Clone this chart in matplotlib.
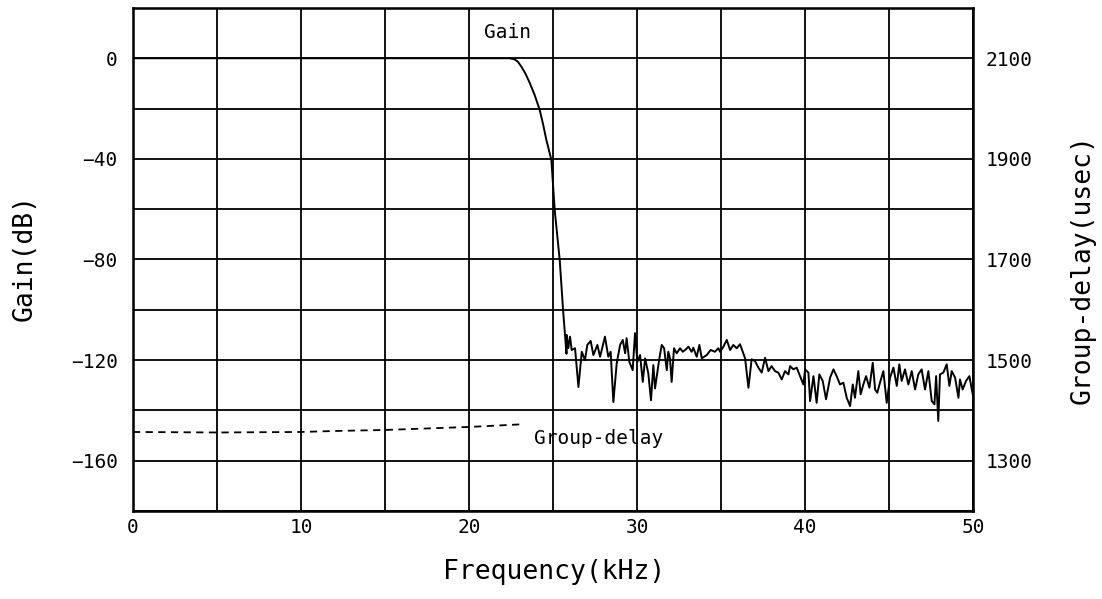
#filter response plot: gain and group-delay against frequency
import matplotlib
matplotlib.use('Agg')
import matplotlib.pyplot as plt

#passband and transition of the gain curve
pass_freq = [0.0, 22.4, 22.7, 22.9, 23.1, 23.35, 23.6, 23.9, 24.2, 24.4, 24.6, 24.9,
             25.1, 25.4, 25.6, 25.8]
pass_gain = [0.0, 0.0, -0.4, -1.3, -3.2, -6.0, -9.6, -14.5, -20.4, -26.0, -32.4, -40.4,
             -60.4, -80.4, -100.4, -117.5]

#stopband noise
stop_freq = [25.81, 25.91, 26.01, 26.11, 26.31, 26.51, 26.71, 26.90, 27.04, 27.24,
             27.40, 27.64, 27.80, 28.09, 28.29, 28.43, 28.59, 28.79, 28.99, 29.15,
             29.29, 29.38, 29.54, 29.74, 29.88, 30.02, 30.18, 30.34, 30.48, 30.67,
             30.83, 30.97, 31.07, 31.21, 31.33, 31.47, 31.61, 31.77, 31.86, 31.96,
             32.06, 32.20, 32.36, 32.56, 32.72, 32.86, 33.06, 33.25, 33.35, 33.55,
             33.71, 33.85, 33.99, 34.15, 34.38, 34.64, 34.84, 34.94, 35.14, 35.34,
             35.54, 35.73, 35.93, 36.13, 36.43, 36.63, 36.82, 37.02, 37.22, 37.42,
             37.62, 37.82, 38.01, 38.21, 38.41, 38.61, 38.81, 39.01, 39.11, 39.30,
             39.50, 39.70, 39.90, 40.00, 40.20, 40.30, 40.50, 40.69, 40.85, 41.05,
             41.25, 41.49, 41.69, 41.88, 42.08, 42.28, 42.48, 42.68, 42.84, 42.97,
             43.17, 43.31, 43.47, 43.63, 43.83, 44.03, 44.17, 44.30, 44.46, 44.66,
             44.86, 45.06, 45.26, 45.46, 45.61, 45.75, 45.95, 46.15, 46.35, 46.55,
             46.74, 46.94, 47.14, 47.34, 47.54, 47.70, 47.80, 47.93, 48.03, 48.23,
             48.43, 48.59, 48.73, 48.93, 49.13, 49.22, 49.38, 49.58, 49.78, 49.98]
stop_gain = [-110.0, -115.3, -110.7, -116.0, -115.3, -130.7, -116.7, -120.0, -114.0, -112.4,
             -118.0, -114.0, -118.7, -110.7, -118.7, -116.7, -136.7, -121.3, -114.0, -112.0,
             -117.3, -111.3, -120.7, -124.0, -109.3, -120.7, -118.0, -128.7, -119.3, -125.3,
             -136.0, -122.0, -131.3, -124.7, -119.3, -114.0, -115.3, -124.0, -116.7, -119.3,
             -128.7, -115.3, -117.3, -115.3, -116.7, -116.0, -114.7, -116.7, -115.1, -118.7,
             -114.0, -119.3, -118.7, -118.0, -116.0, -116.7, -115.3, -116.7, -114.7, -112.0,
             -116.0, -114.0, -115.3, -113.7, -119.3, -131.0, -119.7, -120.4, -123.0, -125.0,
             -119.1, -124.4, -122.4, -124.4, -125.0, -127.7, -124.4, -125.7, -122.4, -123.7,
             -123.0, -126.4, -129.7, -123.7, -125.0, -136.3, -126.4, -137.0, -125.7, -128.3,
             -135.6, -127.0, -123.7, -126.4, -129.7, -129.0, -135.0, -138.3, -129.7, -135.0,
             -124.4, -133.6, -129.7, -126.4, -131.0, -121.1, -131.7, -133.0, -129.0, -124.4,
             -137.0, -127.0, -123.0, -130.3, -121.7, -128.3, -123.7, -129.7, -124.4, -131.7,
             -125.7, -123.7, -131.7, -124.4, -136.3, -137.6, -126.4, -144.2, -125.7, -125.0,
             -121.7, -130.3, -124.4, -127.0, -135.0, -127.7, -131.7, -128.3, -126.4, -133.6]

#group delay in the passband
gd_freq = [0, 5, 10, 12, 15, 20, 23]
gd_usec = [1357, 1356, 1357, 1359, 1361, 1367, 1372]

gain_ticks = [0, -40, -80, -120, -160]
gd_ticks = [2100, 1900, 1700, 1500, 1300]
freq_ticks = [0, 10, 20, 30, 40, 50]

font = 'DejaVu Sans Mono'
plt.rcParams['font.family'] = font

fig = plt.figure(figsize=(11.02, 5.99), dpi=100)
ax = fig.add_axes([0.1207, 0.147, 0.7623, 0.8397])

ax.plot(pass_freq + stop_freq, pass_gain + stop_gain, color='black', lw=1.4)

ax.set_xlim(0, 50)
ax.set_ylim(-180, 20)
ax.set_xticks(freq_ticks)
ax.set_xticks(range(0, 51, 5), minor=True)
ax.set_yticks(gain_ticks)
ax.set_yticks(range(-180, 21, 20), minor=True)
ax.grid(which='both', color='black', lw=1.3)
ax.tick_params(which='both', length=0)
ax.tick_params(axis='y', labelsize=14, pad=11)
ax.tick_params(axis='x', labelsize=14, pad=5)
for s in ax.spines.values():
    s.set_linewidth(1.8)

#right axis for group delay, 5 usec per dB
ax2 = ax.twinx()
ax2.set_ylim(1200, 2200)
ax2.set_yticks(gd_ticks)
ax2.tick_params(length=0, labelsize=14, pad=9)
ax2.plot(gd_freq, gd_usec, color='black', lw=1.3, ls=(0, (4, 3)))

ax.text(22.3, 10.4, 'Gain', ha='center', va='center', fontsize=14)
ax.text(27.7, -151, 'Group-delay', ha='center', va='center', fontsize=14)

fig.text(0.503, 0.045, 'Frequency(kHz)', ha='center', va='center', fontsize=19)
fig.text(0.022, 0.57, 'Gain(dB)', ha='center', va='center', rotation=90, fontsize=19)
fig.text(0.982, 0.55, 'Group-delay(usec)', ha='center', va='center', rotation=90, fontsize=19)

fig.savefig('out.png', dpi=100)
